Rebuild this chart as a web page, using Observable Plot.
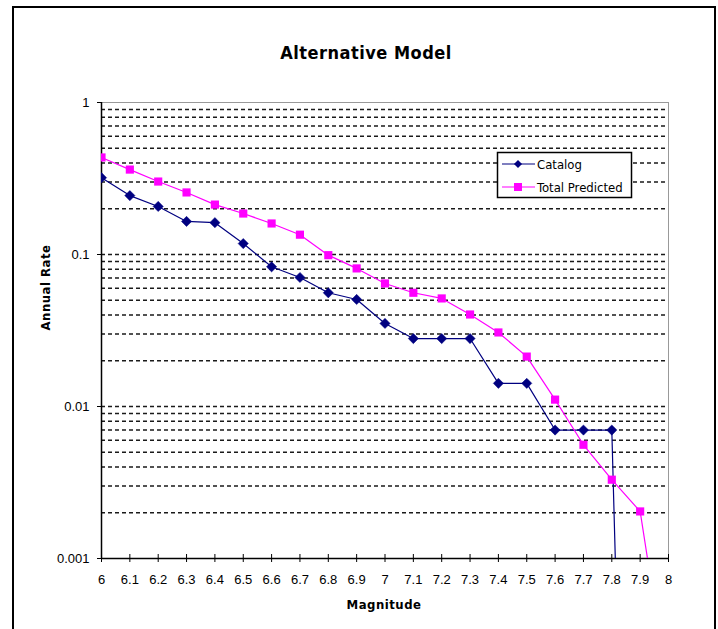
<!DOCTYPE html>
<html>
<head>
<meta charset="utf-8">
<script src="https://cdn.jsdelivr.net/npm/d3@7"></script>
<script src="https://cdn.jsdelivr.net/npm/@observablehq/plot@0.6"></script>
<style>
  html, body { margin: 0; padding: 0; background: #fff; }
  #chart svg { display: block; }
</style>
</head>
<body>
<div id="chart"></div>
<script>
// ---- data ----
const magnitudes = [6.0, 6.1, 6.2, 6.3, 6.4, 6.5, 6.6, 6.7, 6.8, 6.9, 7.0, 7.1, 7.2, 7.3, 7.4, 7.5, 7.6, 7.7, 7.8, 7.9, 8.0];
// Catalog: last shown point 7.8; the next value (7.9) is ~0, drawn off the chart
const catalog = [0.32, 0.244, 0.207, 0.165, 0.162, 0.118, 0.083, 0.0706, 0.056, 0.0506, 0.0352, 0.028, 0.028, 0.028, 0.0142, 0.0142, 0.007, 0.007, 0.007, 1e-9, null];
const totalPredicted = [0.435, 0.362, 0.302, 0.256, 0.213, 0.186, 0.16, 0.135, 0.099, 0.081, 0.0645, 0.056, 0.0514, 0.0403, 0.0307, 0.0213, 0.0111, 0.0056, 0.0033, 0.00204, 0.00013];
const seriesNames = ["Catalog", "Total Predicted"];
const xTicks = [6.0, 6.1, 6.2, 6.3, 6.4, 6.5, 6.6, 6.7, 6.8, 6.9, 7.0, 7.1, 7.2, 7.3, 7.4, 7.5, 7.6, 7.7, 7.8, 7.9, 8.0];
const xTickLabels = ["6", "6.1", "6.2", "6.3", "6.4", "6.5", "6.6", "6.7", "6.8", "6.9", "7", "7.1", "7.2", "7.3", "7.4", "7.5", "7.6", "7.7", "7.8", "7.9", "8"];
const yTicks = [0.001, 0.01, 0.1, 1];
const yTickLabels = ["0.001", "0.01", "0.1", "1"];
const gridValues = [0.002, 0.003, 0.004, 0.005, 0.006, 0.007, 0.008, 0.009,
                    0.01, 0.02, 0.03, 0.04, 0.05, 0.06, 0.07, 0.08, 0.09,
                    0.1, 0.2, 0.3, 0.4, 0.5, 0.6, 0.7, 0.8, 0.9];

const catColor = "#000080";
const predColor = "#ff00ff";

const catData = magnitudes.map((m, i) => ({m, v: catalog[i]})).filter(d => d.v != null);
const predData = magnitudes.map((m, i) => ({m, v: totalPredicted[i]})).filter(d => d.v != null);

const font = "'DejaVu Sans Condensed', 'DejaVu Sans', sans-serif";
const tickFont = "'Liberation Sans', Arial, sans-serif";

const chart = Plot.plot({
  width: 718,
  height: 629,
  marginLeft: 101,
  marginRight: 50,
  marginTop: 102,
  marginBottom: 71,
  style: {fontFamily: tickFont, fontSize: "13px", background: "#fff"},
  x: {domain: [6, 8]},
  y: {type: "log", domain: [0.001, 1]},
  marks: [
    Plot.frame({stroke: "#999", strokeWidth: 1}),
    Plot.ruleY(gridValues, {stroke: "#1a1a1a", strokeWidth: 1.4, strokeDasharray: "4,3"}),
    Plot.ruleX([6], {stroke: "black", strokeWidth: 1.5}),
    Plot.ruleY([0.001], {stroke: "black", strokeWidth: 1.5}),
    Plot.axisY({ticks: yTicks, tickFormat: d => yTickLabels[yTicks.indexOf(d)], tickSize: 4, tickPadding: 8, fontSize: 13, label: null, stroke: "black"}),
    Plot.axisX({ticks: xTicks, tickFormat: d => xTickLabels[xTicks.findIndex(t => Math.abs(t - d) < 1e-9)], tickSize: 4, tickPadding: 12, fontSize: 13, label: null, stroke: "black"}),
    Plot.axisX({ticks: xTicks, tickSize: -4, tickFormat: () => "", label: null, stroke: "black"}),
    Plot.line(catData, {x: "m", y: "v", stroke: catColor, strokeWidth: 1.2, clip: true}),
    Plot.dot(catData, {x: "m", y: "v", symbol: "diamond2", r: 4.6, fill: catColor, stroke: catColor, strokeWidth: 0.5, clip: true}),
    Plot.line(predData, {x: "m", y: "v", stroke: predColor, strokeWidth: 1.2, clip: true}),
    Plot.dot(predData, {x: "m", y: "v", symbol: "square", r: 4.6, fill: predColor, clip: true}),
    Plot.text(["Alternative Model"], {frameAnchor: "top", dy: -56, dx: -19, fontSize: 18, fontWeight: "bold", fontFamily: font, fill: "black"}),
    Plot.text(["Annual Rate"], {frameAnchor: "left", dx: -56, rotate: -90, fontSize: 13, fontWeight: "bold", fontFamily: font, fill: "black"}),
    Plot.text(["Magnitude"], {frameAnchor: "bottom", dy: 50, dx: -1, fontSize: 13, fontWeight: "bold", fontFamily: font, fill: "black"})
  ]
});

const svg = d3.select(chart);
// letter spacing for the title-like texts
svg.selectAll("text").filter(function() { return ["Alternative Model", "Annual Rate", "Magnitude"].includes(this.textContent); })
  .attr("letter-spacing", 0.5);

// outer chart border (no bottom edge visible in window)
svg.append("path")
  .attr("d", "M13,640V7H715V640")
  .attr("fill", "none").attr("stroke", "black").attr("stroke-width", 2);

// legend
const lg = svg.append("g").attr("font-family", font).attr("font-size", 13).attr("text-anchor", "start");
lg.append("rect").attr("x", 497.5).attr("y", 152.5).attr("width", 134).attr("height", 45)
  .attr("fill", "white").attr("stroke", "black").attr("stroke-width", 1.5);
const entries = [
  {name: seriesNames[0], color: catColor, y: 164, sym: d3.symbolDiamond2, size: 42},
  {name: seriesNames[1], color: predColor, y: 187, sym: d3.symbolSquare, size: 64}
];
entries.forEach(e => {
  lg.append("line").attr("x1", 502).attr("x2", 535).attr("y1", e.y).attr("y2", e.y)
    .attr("stroke", e.color).attr("stroke-width", 1.2);
  lg.append("path").attr("d", d3.symbol(e.sym, e.size)()).attr("transform", `translate(518,${e.y})`)
    .attr("fill", e.color);
  lg.append("text").attr("x", 537).attr("y", e.y).attr("dy", "0.35em").attr("text-anchor", "start").attr("fill", "black").text(e.name);
});

document.getElementById("chart").appendChild(chart);
</script>
</body>
</html>
